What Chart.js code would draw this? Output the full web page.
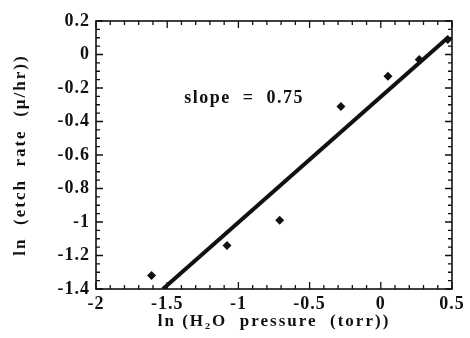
<!DOCTYPE html>
<html>
<head>
<meta charset="utf-8">
<script src="https://cdn.jsdelivr.net/npm/chart.js@4"></script>
<style>
  html, body { margin: 0; padding: 0; background: #fff; }
  #wrap { width: 470px; height: 338px; }
</style>
</head>
<body>
<div id="wrap"><canvas id="etchChart" width="470" height="338"></canvas></div>
<script>
    // measured points, ln(H2O pressure) vs ln(etch rate)
    const lnPressure = [-1.61, -1.08, -0.71, -0.28, 0.05, 0.27, 0.47];
    const lnEtchRate = [-1.32, -1.14, -0.99, -0.31, -0.13, -0.03, 0.09];

    // least squares line, slope 0.75
    const fitX = [-1.53, 0.47];
    const fitY = [-1.40, 0.10];

    const xTicks = [-2, -1.5, -1, -0.5, 0, 0.5];
    const yTicks = [0.2, 0, -0.2, -0.4, -0.6, -0.8, -1, -1.2, -1.4];

    const slopeLabel = 'slope  =  0.75';
    const slopeAt = { x: -0.96, y: -0.26 };

    const ink = '#111';
    const serif = "'Liberation Serif', 'Times New Roman', serif";

    // inward ticks on all four sides, plus the box
    const frameTicks = {
        id: 'frameTicks',
        beforeDraw(chart) {
            // axis titles are drawn before the datasets
            chart.ctx.letterSpacing = '2px';
        },
        beforeDatasetsDraw(chart) {
            const { ctx, chartArea: a, scales: { x, y } } = chart;
            ctx.save();
            ctx.letterSpacing = '0px';
            ctx.strokeStyle = ink;
            ctx.lineWidth = 1.3;
            ctx.beginPath();
            for (let i = 0; i <= 25; i++) {
                const v = -2 + i * 0.1;
                const px = x.getPixelForValue(v);
                const len = i % 5 === 0 ? 7 : 4;
                ctx.moveTo(px, a.bottom); ctx.lineTo(px, a.bottom - len);
                ctx.moveTo(px, a.top); ctx.lineTo(px, a.top + len);
            }
            for (let i = 0; i <= 32; i++) {
                const v = 0.2 - i * 0.05;
                const py = y.getPixelForValue(v);
                const len = i % 4 === 0 ? 7 : 4;
                ctx.moveTo(a.left, py); ctx.lineTo(a.left + len, py);
                ctx.moveTo(a.right, py); ctx.lineTo(a.right - len, py);
            }
            ctx.stroke();
            ctx.lineWidth = 1.6;
            ctx.strokeRect(a.left, a.top, a.right - a.left, a.bottom - a.top);

            ctx.letterSpacing = '1.5px';
            ctx.fillStyle = ink;
            ctx.font = 'bold 18px ' + serif;
            ctx.textAlign = 'center';
            ctx.textBaseline = 'middle';
            ctx.fillText(slopeLabel, x.getPixelForValue(slopeAt.x), y.getPixelForValue(slopeAt.y));
            ctx.restore();
        },
        afterDatasetsDraw(chart) {
            // tick labels (z: 1) come after the datasets
            chart.ctx.letterSpacing = '1px';
        },
        afterDraw(chart) {
            chart.ctx.letterSpacing = '0px';
        }
    };

    const tickFont = { family: serif, size: 18, weight: 'bold' };
    const titleFont = { family: serif, size: 17, weight: 'bold' };

    const ctx = document.getElementById('etchChart').getContext('2d');

    new Chart(ctx, {
        type: 'scatter',
        data: {
            datasets: [
                {
                    label: 'measured',
                    data: lnPressure.map((v, i) => ({ x: v, y: lnEtchRate[i] })),
                    pointStyle: 'rectRot',
                    pointRadius: 4.5,
                    backgroundColor: ink,
                    borderColor: ink,
                    borderWidth: 0
                },
                {
                    label: 'fit',
                    type: 'line',
                    data: fitX.map((v, i) => ({ x: v, y: fitY[i] })),
                    borderColor: ink,
                    borderWidth: 4,
                    pointRadius: 0,
                    fill: false
                }
            ]
        },
        options: {
            responsive: false,
            animation: false,
            layout: { padding: { left: 0, top: 21, right: 18, bottom: 0 } },
            plugins: {
                legend: { display: false },
                tooltip: { enabled: false }
            },
            scales: {
                x: {
                    type: 'linear',
                    min: -2,
                    max: 0.5,
                    afterBuildTicks: s => { s.ticks = xTicks.map(v => ({ value: v })); },
                    afterFit: s => { s.height = 49; },
                    grid: { display: false, drawTicks: false },
                    border: { display: false },
                    ticks: {
                        z: 1,
                        padding: 5,
                        color: ink,
                        font: tickFont,
                        callback: v => String(v)
                    },
                    title: {
                        display: true,
                        text: 'ln (H₂O  pressure  (torr))',
                        color: ink,
                        font: titleFont,
                        padding: { top: 0, bottom: 6 }
                    }
                },
                y: {
                    type: 'linear',
                    min: -1.4,
                    max: 0.2,
                    afterBuildTicks: s => { s.ticks = yTicks.map(v => ({ value: v })); },
                    afterFit: s => { s.width = 96; },
                    grid: { display: false, drawTicks: false },
                    border: { display: false },
                    ticks: {
                        z: 1,
                        padding: 6,
                        color: ink,
                        font: tickFont,
                        callback: v => String(v)
                    },
                    title: {
                        display: true,
                        text: 'ln  (etch  rate  (µ/hr))',
                        color: ink,
                        font: titleFont,
                        padding: { top: 10, bottom: 0 }
                    }
                }
            }
        },
        plugins: [frameTicks]
    });
</script>
</body>
</html>
